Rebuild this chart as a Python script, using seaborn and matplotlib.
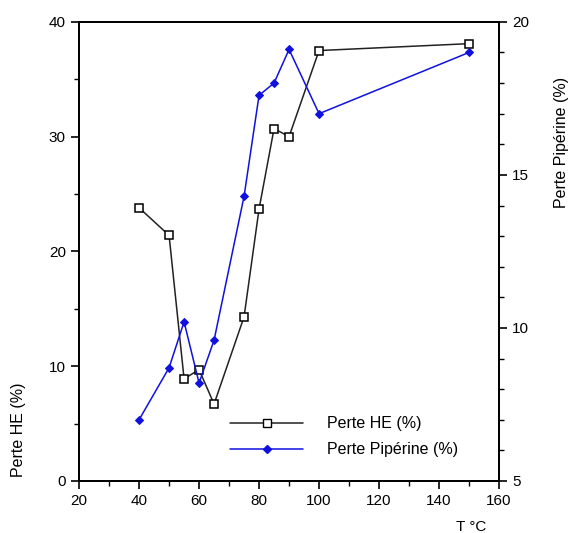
import matplotlib
matplotlib.use("Agg")
import matplotlib.pyplot as plt
from matplotlib.ticker import MultipleLocator
from matplotlib.lines import Line2D
import seaborn as sns
import pandas as pd

# données
temp_he = [40, 50, 55, 60, 65, 75, 80, 85, 90, 100, 150]
perte_he = [23.8, 21.4, 8.9, 9.7, 6.7, 14.3, 23.7, 30.7, 30.0, 37.5, 38.1]

temp_pip = [40, 50, 55, 60, 65, 75, 80, 85, 90, 100, 150]
perte_pip = [7.0, 8.7, 10.2, 8.2, 9.6, 14.3, 17.6, 18.0, 19.1, 17.0, 19.0]

sns.set_style("ticks")
plt.rcParams['font.family'] = ['Liberation Sans', 'DejaVu Sans']
plt.rcParams['text.color'] = 'black'

df_he = pd.DataFrame({"T": temp_he, "HE": perte_he})
df_pip = pd.DataFrame({"T": temp_pip, "PIP": perte_pip})

fig = plt.figure(figsize=(5.69, 5.33), dpi=100)
ax = fig.add_axes([0.139, 0.0976, 0.738, 0.8614])

sns.lineplot(data=df_he, x="T", y="HE", ax=ax, color="#222222", linewidth=1.1,
             marker="s", markersize=6, markerfacecolor="white",
             markeredgecolor="black", markeredgewidth=1.1, sort=False)

ax2 = ax.twinx()
sns.lineplot(data=df_pip, x="T", y="PIP", ax=ax2, color="#1010e0", linewidth=1.1,
             marker="D", markersize=4.5, markerfacecolor="#1010e0",
             markeredgecolor="#1010e0", sort=False)

ax.set_xlim(20, 160)
ax.set_ylim(0, 40)
ax2.set_ylim(5, 20)

ax.xaxis.set_major_locator(MultipleLocator(20))
ax.xaxis.set_minor_locator(MultipleLocator(10))
ax.yaxis.set_major_locator(MultipleLocator(10))
ax.yaxis.set_minor_locator(MultipleLocator(5))
ax2.yaxis.set_major_locator(MultipleLocator(5))
ax2.yaxis.set_minor_locator(MultipleLocator(1))

for a in (ax, ax2):
    for s in a.spines.values():
        s.set_linewidth(1.3)
        s.set_color("black")
    a.tick_params(which="major", direction="out", length=6, width=1.2, labelsize=11,
                  colors="black", labelcolor="black")
    a.tick_params(which="minor", direction="out", length=3.5, width=1.0, colors="black")

ax.set_xlabel("")
ax.set_ylabel("")
ax2.set_ylabel("")

fig.text(0.032, 0.105, "Perte HE (%)", rotation=90, ha="center", va="bottom", fontsize=11.5)
fig.text(0.986, 0.856, "Perte Pipérine (%)", rotation=90, ha="center", va="top", fontsize=11.5)
fig.text(0.828, 0.012, "T °C", ha="center", va="center", fontsize=11)

handles = [
    Line2D([], [], color="#222222", linewidth=1.1, marker="s", markersize=6,
           markerfacecolor="white", markeredgecolor="black"),
    Line2D([], [], color="#1010e0", linewidth=1.1, marker="D", markersize=4.5,
           markerfacecolor="#1010e0", markeredgecolor="#1010e0"),
]
ax2.legend(handles, ["Perte HE (%)", "Perte Pipérine (%)"], loc="lower left",
           bbox_to_anchor=(0.325, 0.02), frameon=False, fontsize=11.5,
           handlelength=4.6, handletextpad=1.5, labelspacing=0.7)

fig.savefig("out.png", dpi=100)
